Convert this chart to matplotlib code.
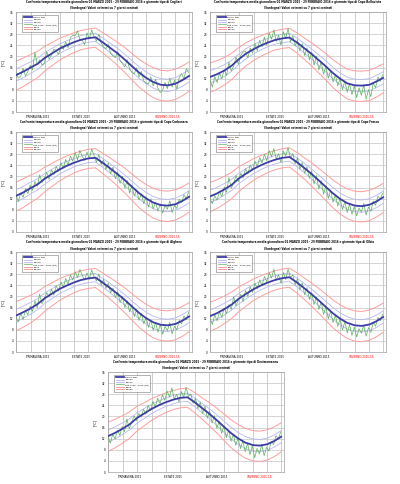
import numpy as np
import matplotlib.pyplot as plt

# stazioni e testi
STAZIONI = ["Cagliari", "Capo Bellavista", "Capo Carbonara", "Capo Frasca",
            "Alghero", "Olbia", "Decimomannu"]
STAGIONI = ["PRIMAVERA 2015", "ESTATE 2015", "AUTUNNO 2015", "INVERNO 2015-16"]
GG_STAGIONI = [45, 137, 229, 320]
INIZIO_MESI = [0, 31, 61, 92, 122, 153, 184, 214, 245, 275, 306, 337, 366]
LEGENDA = ["giorno tipo", "perc25", "perc75", "dati 2015 - 2016 (gg)", "perc5", "perc95"]

# giorni dei valori climatologici (inizio e meta' mese, dal 1 marzo 2015)
GG_CLIMA = [0, 15, 31, 46, 61, 76, 92, 107, 122, 137, 153, 168, 184, 199, 214,
            229, 245, 260, 275, 290, 306, 321, 337, 352, 366]

# giorno tipo (media) per stazione
MEDIA = [
    [13.3, 14.5, 16.0, 17.4, 19.5, 21.1, 22.8, 24.0, 25.1, 26.0, 26.6, 26.9, 25.0,
     23.1, 21.2, 19.0, 16.5, 14.2, 12.3, 10.8, 9.8, 9.6, 10.2, 11.5, 13.0],
    [12.6, 13.6, 15.0, 16.7, 19.0, 21.0, 22.6, 23.9, 25.0, 25.9, 26.5, 26.8, 25.0,
     23.0, 21.0, 18.8, 16.4, 14.0, 12.0, 10.3, 9.6, 9.5, 9.8, 11.0, 12.3],
    [13.0, 14.2, 15.8, 17.2, 19.2, 20.8, 22.5, 23.8, 24.9, 25.8, 26.5, 26.7, 24.8,
     22.9, 20.9, 18.8, 16.3, 14.0, 12.1, 10.6, 9.7, 9.5, 10.0, 11.2, 12.7],
    [12.8, 13.9, 15.4, 17.0, 19.3, 21.0, 22.7, 24.0, 25.1, 26.0, 26.7, 27.0, 25.1,
     23.1, 21.0, 18.7, 16.2, 13.9, 11.9, 10.4, 9.5, 9.3, 9.8, 11.0, 12.5],
    [13.1, 14.3, 15.7, 17.3, 19.4, 21.0, 22.7, 23.9, 25.0, 25.9, 26.5, 26.8, 24.9,
     23.0, 21.0, 18.9, 16.4, 14.1, 12.2, 10.7, 9.8, 9.6, 10.1, 11.3, 12.8],
    [12.9, 14.0, 15.5, 17.1, 19.2, 20.9, 22.6, 23.9, 25.0, 25.9, 26.6, 26.9, 25.0,
     23.0, 20.9, 18.7, 16.2, 13.9, 12.0, 10.5, 9.6, 9.4, 9.9, 11.1, 12.6],
    [12.9, 14.1, 15.6, 17.2, 19.4, 21.0, 22.7, 24.0, 25.1, 26.0, 26.7, 26.9, 25.0,
     23.0, 21.0, 18.8, 16.3, 14.0, 12.1, 10.6, 9.7, 9.5, 10.0, 11.2, 12.7],
]

# distanza dei percentili dal giorno tipo
SCARTO_INT = [2.2, 2.2, 2.1, 2.0, 1.9, 1.8, 1.7, 1.6, 1.5, 1.5, 1.5, 1.5, 1.6,
              1.7, 1.8, 1.9, 2.0, 2.1, 2.1, 2.2, 2.2, 2.2, 2.2, 2.2, 2.2]
SCARTO_EST_BASSO = [5.5, 5.4, 5.2, 5.0, 4.7, 4.4, 4.1, 3.9, 3.7, 3.6, 3.6, 3.6, 3.8,
                    4.0, 4.3, 4.6, 4.9, 5.2, 5.4, 5.6, 5.7, 5.7, 5.7, 5.6, 5.5]
SCARTO_EST_ALTO = [5.0, 4.9, 4.7, 4.5, 4.2, 3.9, 3.7, 3.5, 3.4, 3.3, 3.3, 3.3, 3.5,
                   3.7, 4.0, 4.3, 4.6, 4.8, 5.0, 5.1, 5.2, 5.2, 5.2, 5.1, 5.0]

# temperatura media osservata, un valore ogni 5 giorni
OSSERVATI = [
    [14.0, 12.2, 12.9, 15.8, 13.0, 14.6, 16.8, 15.2, 21.5, 17.0, 18.8, 16.9, 17.5, 21.8,
     19.0, 20.5, 22.6, 22.1, 20.7, 24.0, 22.5, 25.3, 23.1, 26.8, 27.6, 27.5, 29.2, 26.0,
     25.8, 24.2, 28.5, 26.3, 29.6, 27.1, 25.5, 28.0, 24.9, 23.4, 22.8, 24.5, 21.0, 20.2,
     19.6, 21.8, 18.5, 17.4, 16.2, 18.9, 15.5, 14.2, 13.8, 15.9, 12.5, 14.6, 11.2, 10.4,
     10.1, 12.7, 9.3, 11.8, 8.6, 7.0, 7.9, 10.6, 8.4, 12.1, 9.0, 11.5, 8.2, 12.4, 13.8,
     11.9, 15.6, 14.2],
    [11.5, 9.0, 12.8, 10.6, 13.9, 12.0, 15.2, 13.1, 17.9, 14.8, 16.5, 19.8, 17.2, 20.4,
     21.6, 21.9, 19.5, 23.0, 21.2, 24.6, 22.0, 25.8, 23.5, 27.0, 24.1, 28.4, 26.2, 29.5,
     25.4, 27.6, 24.0, 28.9, 26.5, 30.1, 25.2, 27.4, 23.8, 25.9, 22.0, 24.6, 20.3, 23.1,
     18.7, 21.5, 16.9, 20.2, 15.1, 18.0, 13.6, 16.4, 12.2, 14.9, 10.8, 13.5, 9.4, 12.0,
     8.0, 11.3, 7.1, 10.2, 6.3, 9.4, 5.2, 8.7, 6.0, 9.8, 4.6, 8.1, 5.5, 10.4, 8.8, 12.6,
     11.0, 13.5],
    [13.2, 11.0, 14.1, 12.5, 15.6, 13.8, 16.9, 15.0, 18.2, 16.4, 20.6, 17.8, 19.3, 21.5,
     18.9, 22.4, 20.7, 23.6, 21.8, 24.9, 23.0, 26.1, 24.2, 27.3, 25.5, 28.6, 26.0, 29.4,
     27.2, 25.8, 28.8, 26.4, 29.9, 27.5, 25.1, 27.9, 24.3, 26.0, 22.5, 24.8, 20.9, 23.4,
     19.2, 21.6, 17.5, 20.1, 15.8, 18.6, 14.0, 16.8, 12.9, 15.2, 11.5, 13.8, 10.2, 12.7,
     9.0, 11.9, 8.3, 10.8, 7.5, 10.1, 6.8, 9.5, 8.2, 11.2, 7.0, 9.6, 8.5, 11.8, 10.6, 13.4,
     12.0, 14.6],
    [12.0, 10.2, 13.1, 11.4, 14.8, 12.7, 16.2, 14.3, 19.6, 15.8, 17.6, 20.3, 18.1, 21.2,
     19.4, 22.8, 20.9, 24.1, 22.3, 25.5, 23.6, 26.8, 24.9, 28.0, 25.7, 29.3, 27.1, 30.0,
     26.3, 28.2, 25.0, 29.1, 27.4, 30.4, 26.6, 28.3, 24.5, 26.7, 22.6, 25.0, 21.1, 23.5,
     19.3, 22.0, 17.2, 20.4, 15.4, 18.5, 13.6, 16.7, 12.1, 15.0, 10.7, 13.4, 9.3, 12.2,
     8.1, 11.0, 7.0, 10.0, 6.4, 9.1, 5.8, 8.6, 7.2, 10.3, 6.1, 9.0, 7.4, 11.1, 9.6, 12.9,
     11.8, 14.0],
    [12.5, 10.8, 13.9, 11.7, 15.1, 13.4, 16.6, 14.6, 18.4, 15.9, 20.9, 17.4, 19.0, 21.4,
     19.8, 22.6, 20.5, 23.9, 21.9, 25.2, 23.3, 26.5, 24.4, 27.8, 25.9, 28.9, 26.8, 29.7,
     27.6, 25.9, 28.5, 26.2, 29.6, 27.0, 25.6, 28.1, 24.1, 26.2, 22.9, 24.7, 21.3, 23.0,
     19.6, 21.7, 17.8, 20.0, 16.0, 18.4, 14.4, 16.9, 12.8, 15.3, 11.4, 13.9, 10.1, 12.5,
     8.9, 11.6, 7.8, 10.7, 7.1, 9.9, 6.4, 9.2, 7.7, 10.6, 6.5, 9.3, 8.0, 11.4, 10.1, 13.0,
     11.6, 14.3],
    [12.3, 9.9, 13.4, 11.2, 14.5, 12.4, 15.8, 13.9, 17.1, 15.3, 19.9, 16.6, 18.7, 20.8,
     18.2, 22.1, 20.0, 23.4, 21.5, 24.8, 22.7, 26.0, 23.9, 27.2, 25.3, 28.5, 26.6, 29.8,
     25.9, 27.8, 24.7, 28.6, 26.1, 29.9, 26.8, 27.7, 24.2, 26.4, 22.3, 24.9, 20.6, 23.2,
     18.9, 21.3, 17.1, 19.8, 15.3, 18.1, 13.5, 16.2, 12.0, 14.7, 10.6, 13.2, 9.2, 11.9,
     7.9, 10.9, 6.9, 9.8, 6.0, 9.0, 5.4, 8.4, 6.8, 9.7, 5.7, 8.8, 7.1, 10.6, 9.3, 12.4,
     11.2, 13.6],
    [12.7, 10.4, 13.6, 11.9, 15.0, 13.2, 16.4, 14.5, 19.1, 15.6, 17.9, 20.2, 18.5, 21.1,
     19.7, 22.6, 20.8, 24.0, 22.1, 25.4, 23.4, 26.6, 24.6, 27.9, 25.8, 29.1, 27.0, 30.3,
     26.2, 28.0, 25.3, 29.0, 26.9, 30.5, 27.2, 28.1, 24.7, 26.5, 22.8, 25.1, 21.0, 23.7,
     19.4, 21.9, 17.6, 20.3, 15.7, 18.3, 13.9, 16.5, 12.4, 15.1, 11.0, 13.6, 9.6, 12.3,
     8.4, 11.2, 7.3, 10.3, 6.2, 9.4, 5.1, 8.5, 6.6, 9.9, 5.9, 8.9, 7.5, 11.0, 9.9, 13.1,
     11.9, 14.4],
]

W, H = 400, 484
# riquadri in pixel (sinistra, alto)
RIQUADRI = [(16, 12), (210, 12), (16, 132), (210, 132), (16, 252), (210, 252), (108, 372)]
LARG, ALT = 176, 100

fig = plt.figure(figsize=(W / 100, H / 100), dpi=100)

for i, (px, py) in enumerate(RIQUADRI):
    ax = fig.add_axes([px / W, 1 - (py + ALT) / H, LARG / W, ALT / H])
    gg = GG_CLIMA
    media = np.array(MEDIA[i])
    oss = np.array(OSSERVATI[i])
    gg_oss = np.arange(len(oss)) * 5

    ax.plot(gg, media, color="#3c3ca8", lw=1.3, label=LEGENDA[0], zorder=5)
    ax.plot(gg, media - np.array(SCARTO_INT), color="#b4b8f2", lw=0.6, label=LEGENDA[1])
    ax.plot(gg, media + np.array(SCARTO_INT), color="#b4b8f2", lw=0.6, label=LEGENDA[2])
    ax.plot(gg_oss, oss, color="#5cb05c", lw=0.5, label=LEGENDA[3], zorder=4)
    ax.plot(gg, media - np.array(SCARTO_EST_BASSO), color="#ff9d9d", lw=0.7, label=LEGENDA[4])
    ax.plot(gg, media + np.array(SCARTO_EST_ALTO), color="#ff9d9d", lw=0.7, label=LEGENDA[5])

    ax.set_xlim(0, 372)
    ax.set_ylim(0, 36)
    ax.set_yticks(np.arange(0, 37, 4))
    ax.set_xticks(INIZIO_MESI, minor=True)
    ax.set_xticks(GG_STAGIONI)
    ax.set_xticklabels(STAGIONI, fontsize=2)
    ax.get_xticklabels()[3].set_color("red")
    ax.tick_params(axis="both", which="both", length=0, labelsize=2, pad=2)
    ax.grid(True, which="minor", axis="x", color="#c4c4c4", lw=0.6)
    ax.grid(True, which="major", axis="y", color="#c4c4c4", lw=0.5)
    ax.grid(False, which="major", axis="x")
    for s in ax.spines.values():
        s.set_color("#a0a0a0")
        s.set_linewidth(0.5)
    ax.set_ylabel("[°C]", fontsize=2.5, labelpad=3)

    titolo = ("Confronto temperatura media giornaliera 01 MARZO 2015 - 29 FEBBRAIO 2016 "
              "e giornate tipo di " + STAZIONI[i] +
              "\n(Sardegna) Valori estremi su 7 giorni centrati")
    ax.text(0.5, 1.015, titolo, transform=ax.transAxes, ha="center", va="bottom",
            fontsize=1.9, fontweight="bold", linespacing=1.9)

    leg = ax.legend(loc="upper left", bbox_to_anchor=(0.03, 0.98), fontsize=1.6,
                    frameon=True, fancybox=False, edgecolor="#555555",
                    handlelength=3.5, labelspacing=0.35, borderpad=0.6)
    leg.get_frame().set_linewidth(0.4)

fig.savefig("out.png", dpi=100)
